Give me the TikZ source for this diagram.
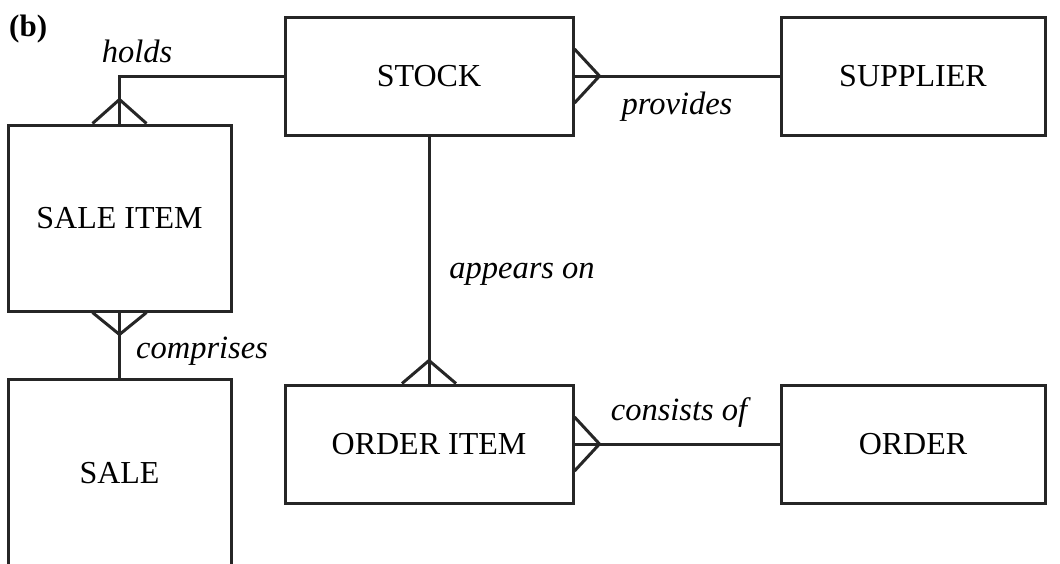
\documentclass[tikz,border=0pt]{standalone}
\usepackage{fontspec}
\setmainfont{Liberation Serif}
\begin{document}
\begin{tikzpicture}[x=1pt,y=-1pt,
  ent/.style={draw=black!85,line width=3pt,rectangle,inner sep=0pt,font=\fontsize{32}{32}\selectfont},
  conn/.style={draw=black!85,line width=3pt},
  lbl/.style={font=\fontsize{32.5}{33}\selectfont\itshape,inner sep=0pt,anchor=base},
]
\useasboundingbox (0,0) rectangle (1060,563);
\clip (0,0) rectangle (1060,563);
\node[ent,minimum width=288pt,minimum height=118pt] (stock) at (429,76) {STOCK};
\node[ent,minimum width=264pt,minimum height=118pt] (supplier) at (913,76) {SUPPLIER};
\node[ent,minimum width=223pt,minimum height=186pt] (saleitem) at (119.5,218) {SALE ITEM};
\node[ent,minimum width=223pt,minimum height=260pt,text depth=0pt] (sale) at (119.5,509) {};
\node[font=\fontsize{32}{32}\selectfont] (saletext) at (119.5,473) {SALE};
\node[ent,minimum width=288pt,minimum height=118pt] (orderitem) at (429,444) {ORDER ITEM};
\node[ent,minimum width=264pt,minimum height=118pt] (order) at (913,444) {ORDER};
% connectors
\draw[conn] (stock.west) -| (saleitem.north);
\draw[conn] (stock.east) -- (supplier.west);
\draw[conn] (saleitem.south) -- (sale.north);
\draw[conn] (stock.south) -- (orderitem.north);
\draw[conn] (orderitem.east) -- (order.west);
% crow's feet
\draw[conn] ([xshift=-27pt]saleitem.north) -- ([yshift=24pt]saleitem.north) -- ([xshift=27pt]saleitem.north);
\draw[conn] ([xshift=-27pt]saleitem.south) -- ([yshift=-22pt]saleitem.south) -- ([xshift=27pt]saleitem.south);
\draw[conn] ([xshift=-27pt]orderitem.north) -- ([yshift=23pt]orderitem.north) -- ([xshift=27pt]orderitem.north);
\draw[conn] ([yshift=27pt]stock.east) -- ([xshift=25pt]stock.east) -- ([yshift=-27pt]stock.east);
\draw[conn] ([yshift=27pt]orderitem.east) -- ([xshift=25pt]orderitem.east) -- ([yshift=-27pt]orderitem.east);
% labels
\node[font=\fontsize{31}{31}\selectfont\bfseries,inner sep=0pt,anchor=base west] (b) at (9,36) {(b)};
\node[lbl] (holds) at (137,62) {holds};
\node[lbl] (provides) at (677,114) {provides};
\node[lbl] (comprises) at (202,358) {comprises};
\node[lbl] (appears) at (522,278) {appears on};
\node[lbl] (consists) at (679,420) {consists of};
\end{tikzpicture}
\end{document}
